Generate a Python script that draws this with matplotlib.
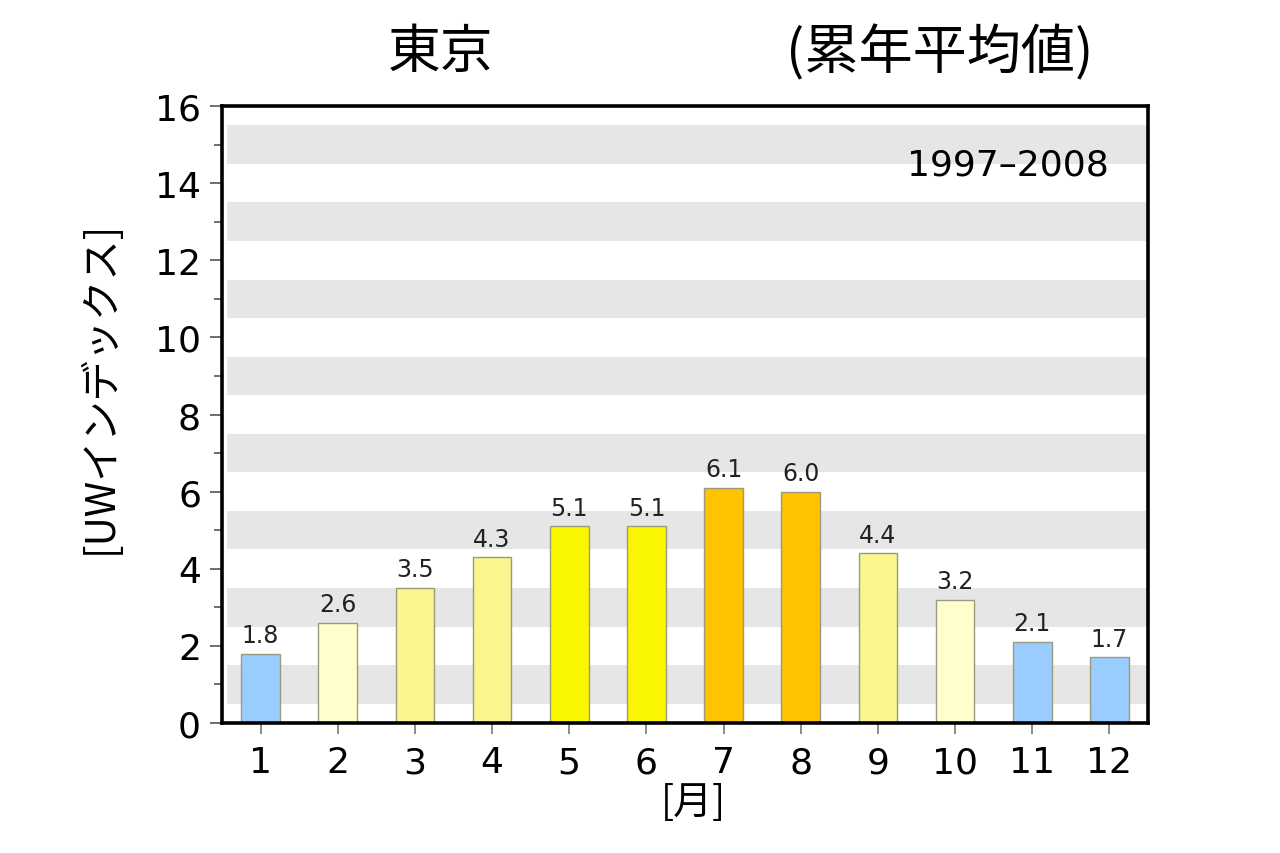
import numpy as np
import matplotlib.pyplot as plt
from matplotlib.ticker import MultipleLocator

plt.rcParams['font.family'] = ['DejaVu Sans', 'Noto Sans CJK JP']
cjkFont = ['Noto Sans CJK JP', 'DejaVu Sans']

months = np.arange(1, 13)
monthLabels = [str(m) for m in months]
uvIndex = [1.8, 2.6, 3.5, 4.3, 5.1, 5.1, 6.1, 6.0, 4.4, 3.2, 2.1, 1.7]
barColors = ['#99CCFF', '#FFFFCC', '#F8F68C', '#F8F68C', '#FAF500', '#FAF500',
             '#FFC300', '#FFC300', '#F8F68C', '#FFFFCC', '#99CCFF', '#99CCFF']
bandStarts = [0.5, 2.5, 4.5, 6.5, 8.5, 10.5, 12.5, 14.5]

fig = plt.figure(figsize=(12.8, 8.54), dpi=100)
ax = fig.add_axes([0.1734, 0.1522, 0.7235, 0.7225])

for b in bandStarts:
  ax.axhspan(b, b + 1, xmin=0.005, xmax=1, color='#E6E6E6', lw=0, zorder=0)

ax.bar(months, uvIndex, width=0.5, color=barColors, edgecolor='#9A9A80', linewidth=1.0, zorder=2)
for m, v in zip(months, uvIndex):
  ax.text(m, v + 0.17, '%.1f' % v, ha='center', va='bottom', fontsize=17, color='#222222')

ax.set_xlim(0.5, 12.5)
ax.set_ylim(0, 16)
ax.set_xticks(months)
ax.set_xticklabels(monthLabels)
ax.yaxis.set_major_locator(MultipleLocator(2))
ax.yaxis.set_minor_locator(MultipleLocator(1))
ax.tick_params(axis='y', which='major', length=9, width=1.2, labelsize=26, pad=6, color='#555555')
ax.tick_params(axis='y', which='minor', length=6, width=1.2, color='#555555')
ax.tick_params(axis='x', which='major', length=8, width=1.2, labelsize=26, pad=8, color='#777777')
for s in ax.spines.values():
  s.set_linewidth(2.6)
  s.set_zorder(3)

ax.text(0.958, 0.905, '1997\u20132008', transform=ax.transAxes, ha='right', va='center', fontsize=26)

fig.text(693 / 1280, 1 - 803 / 854, '[月]', ha='center', va='center', fontsize=28, family=cjkFont)
fig.text(100 / 1280, 1 - 387 / 854, '[UWインデックス]', ha='center', va='center',
         rotation=90, fontsize=29, family=cjkFont)

fig.text(0.344, 0.938, '東京', ha='center', va='center', fontsize=38, family=cjkFont)
fig.text(0.734, 0.938, '(累年平均値)', ha='center', va='center', fontsize=39, family=cjkFont)

fig.savefig('out.png', dpi=100)
